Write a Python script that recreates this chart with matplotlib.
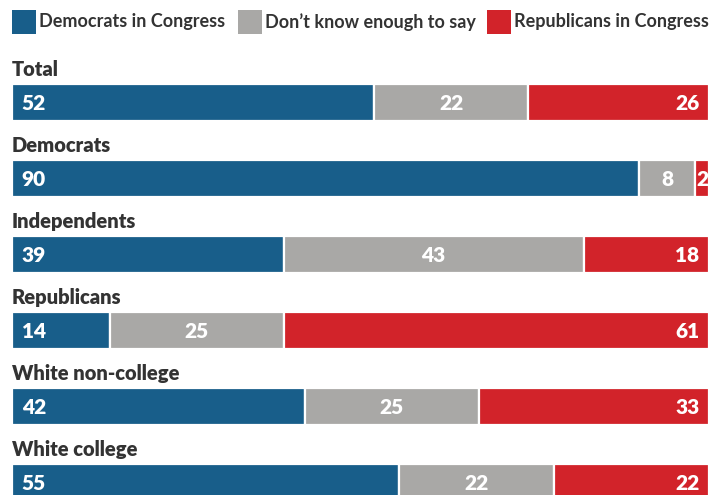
import matplotlib.pyplot as plt
from matplotlib.patches import Rectangle

# data
groups = ['Total', 'Democrats', 'Independents', 'Republicans',
          'White non-college', 'White college']
dem_congress = [52, 90, 39, 14, 42, 55]
dont_know = [22, 8, 43, 25, 25, 22]
rep_congress = [26, 2, 18, 61, 33, 22]

series_names = ['Democrats in Congress', 'Don\u2019t know enough to say',
                'Republicans in Congress']
colors = ['#185E8A', '#A9A8A6', '#D2232A']
label_color = '#333333'

plt.rcParams['font.family'] = ['Lato', 'DejaVu Sans']

fig = plt.figure(figsize=(7.24, 4.95), dpi=100)
W, H = 724, 495
# axes spans the bar area; y in pixel units from the top
ax = fig.add_axes([12 / W, 0, 697 / W, 1])
ax.set_xlim(0, 100)
ax.set_ylim(H, 0)
ax.axis('off')

bar_h = 37
first_top = 84
step = 76

for i, g in enumerate(groups):
    vals = [dem_congress[i], dont_know[i], rep_congress[i]]
    tot = float(sum(vals))
    top = first_top + i * step
    yc = top + bar_h / 2
    left = 0
    for j, v in enumerate(vals):
        w = v / tot * 100
        ax.barh(yc, w, left=left, height=bar_h, color=colors[j],
                edgecolor='white', linewidth=1.6, clip_on=True)
        txt = str(v)
        kw = dict(va='center', color='white', fontsize=15, fontweight='heavy')
        if j == 0:
            ax.text(left + 1.4, yc + 1, txt, ha='left', **kw)
        elif j == 1 or w < 5:
            ax.text(left + w / 2, yc + 1, txt, ha='center', **kw)
        else:
            ax.text(left + w - 1.4, yc + 1, txt, ha='right', **kw)
        left += w
    ax.text(0, top - 5, g, ha='left', va='bottom', color=label_color,
            fontsize=14.5, fontweight='heavy')

# legend across the top
leg_x = [12, 238, 487]
for k in range(3):
    fig.patches.append(Rectangle((leg_x[k] / W, 1 - 34 / H), 24 / W, 24 / H,
                                 transform=fig.transFigure,
                                 facecolor=colors[k], edgecolor='none'))
    fig.text((leg_x[k] + 27) / W, 1 - 22 / H, series_names[k],
             ha='left', va='center', color=label_color, fontsize=13,
             fontweight='bold')

fig.savefig('out.png', dpi=100)
